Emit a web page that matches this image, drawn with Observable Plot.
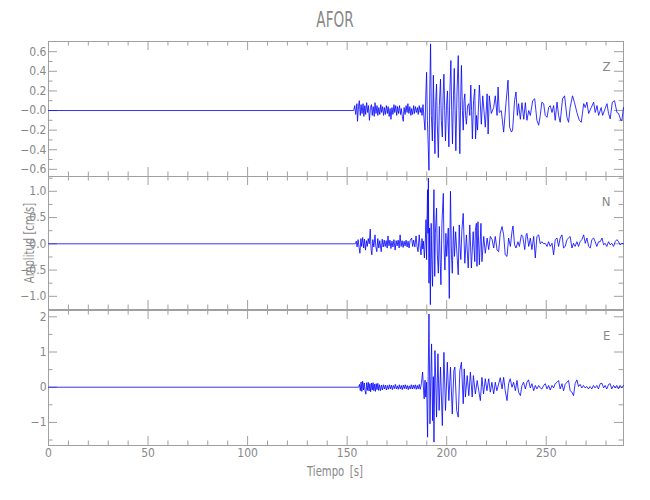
<!DOCTYPE html>
<html><head><meta charset="utf-8">
<script src="https://cdn.jsdelivr.net/npm/d3@7"></script>
<script src="https://cdn.jsdelivr.net/npm/@observablehq/plot@0.6"></script>
<style>
body{margin:0;background:#fff;}
#chart{position:relative;width:650px;height:500px;font-family:"DejaVu Sans Condensed","DejaVu Sans",sans-serif;font-stretch:condensed;color:#888;}
#chart svg{position:absolute;left:0;top:0;}
.lbl{position:absolute;white-space:nowrap;line-height:1;}
</style></head><body>
<div id="chart">
  <div class="lbl" id="title" style="left:335px;top:10px;font-size:21px;transform:translateX(-50%) scaleX(0.72);">AFOR</div>
  <div class="lbl" id="xlab" style="left:335px;top:464px;font-size:14px;transform:translateX(-50%) scaleX(0.8);word-spacing:3px;">Tiempo [s]</div>
  <div class="lbl" id="ylab" style="left:29px;top:243px;font-size:14px;transform:translate(-50%,-50%) rotate(-90deg) scaleX(0.8);">Amplitud [cm/s]</div>
</div>
<script>
// ---------- data: [time (s), amplitude (cm/s)] ----------
const titleText = "AFOR";
const components = ["Z", "N", "E"];

const zTrace = [[0,0],[153.3,0],[153.8,0.05],[154.3,-0.04],[154.9,0.07],[155.2,-0.11],[155.7,0.04],[156.1,0.1],[156.6,-0.05],[157.0,0.06],[157.5,-0.03],[158.0,0.07],[158.4,-0.06],[158.9,0.05],[159.3,-0.04],[159.8,0.08],[160.3,-0.02],[160.7,0.05],[161.2,-0.1],[161.7,0.03],[162.2,0.06],[162.6,-0.05],[163.1,0.04],[163.6,-0.06],[164.0,0.08],[164.5,-0.03],[165.0,0.05],[165.4,-0.05],[165.9,0.03],[166.4,-0.04],[166.9,0.06],[167.3,-0.02],[167.8,0.04],[168.3,-0.05],[168.7,0.03],[169.2,-0.04],[169.7,0.05],[170.2,-0.03],[170.6,0.04],[171.1,-0.06],[171.6,0.02],[172.0,-0.09],[172.5,0.03],[173.0,-0.04],[173.5,0.06],[173.9,-0.02],[174.4,0.05],[174.9,-0.05],[175.3,0.04],[175.8,-0.03],[176.3,0.05],[176.8,-0.04],[177.2,0.02],[177.7,-0.06],[178.2,-0.11],[178.6,0.03],[179.1,-0.04],[179.6,0.05],[180.1,-0.02],[180.5,0.07],[181.0,-0.03],[181.5,0.04],[182.0,-0.05],[182.4,0.02],[182.9,-0.04],[183.4,0.05],[183.8,-0.03],[184.3,0.04],[184.8,-0.02],[185.3,0.03],[185.7,-0.04],[186.2,0.05],[186.7,-0.02],[187.1,0.03],[187.6,-0.05],[188.1,0.06],
[188.6,-0.08],[189.1,-0.2],[189.5,0.15],[189.9,0.39],[190.3,-0.1],[190.7,-0.35],[191.1,-0.61],[191.5,0.2],[191.9,0.68],[192.3,-0.05],[192.8,-0.31],[193.3,0.36],[193.7,-0.1],[194.1,-0.44],[194.5,0.1],[194.9,0.27],[195.3,-0.15],[195.8,-0.48],[196.3,0.05],[196.9,0.32],[197.3,-0.1],[197.8,-0.27],[198.2,0.15],[198.6,0.37],[199.0,0.0],[199.4,-0.31],[199.9,0.05],[200.4,0.2],[200.7,-0.1],[201.1,-0.37],[201.6,0.2],[202.1,0.51],[202.5,0.0],[202.9,-0.34],[203.4,0.15],[203.8,0.43],[204.2,0.0],[204.6,-0.41],[205.2,0.2],[205.8,0.56],[206.2,0.0],[206.6,-0.44],[207.0,0.1],[207.4,0.46],[207.9,0.0],[208.3,-0.2],[208.7,0.1],[209.1,0.17],[209.5,-0.05],[209.9,-0.14],[210.5,0.05],[211.1,0.07],[211.6,-0.05],[212.1,0.26],[212.5,0.0],[212.9,-0.29],[213.5,0.1],[214.1,0.22],[214.5,-0.29],[215.0,-0.05],[215.5,-0.2],[216.4,0.26],[217.4,-0.14],[218.1,0.15],[219.4,-0.17],[220.3,0.17],[220.8,-0.24],[221.4,0.15],[222.4,-0.03],[223.6,0.03],[224.4,0.15],[225.3,-0.05],[225.8,0.24],[226.4,-0.02],[227.4,0.0],[228.6,-0.22],[229.8,0.08],[230.8,0.31],[231.6,-0.17],[232.5,-0.22],[233.1,-0.2],[234.1,0.1],[234.8,0.19],[235.5,-0.05],[236.1,0.07],[237.0,-0.09],[237.8,0.08],[238.7,-0.09],[239.5,0.08],[240.3,-0.1],[241.2,0.0],[242.0,-0.05],[243.2,0.1],[244.2,0.12],[245.3,-0.1],[246.2,-0.15],[247.0,-0.05],[247.8,0.085],[248.7,0.07],[249.5,-0.05],[250.4,-0.07],[251.2,0.03],[252.0,0.05],[252.9,-0.02],[253.7,0.05],[254.5,-0.1],[255.4,0.085],[256.2,-0.05],[257.0,-0.12],[258.2,0.12],[259.2,0.15],[260.4,-0.07],[261.2,-0.12],[262.0,0.03],[263.2,0.15],[264.2,0.08],[265.4,-0.02],[266.6,-0.1],[267.6,-0.12],[268.8,0.07],[269.6,0.03],[270.4,0.085],[271.3,-0.03],[272.6,0.03],[273.8,0.085],[274.6,-0.02],[275.5,0.05],[276.3,-0.05],[277.6,0.03],[278.3,-0.05],[279.6,0.02],[280.5,0.07],[281.3,-0.03],[282.1,-0.085],[283.2,0.085],[284.3,0.1],[285.5,-0.02],[286.3,-0.03],[287.5,-0.1],[288.0,-0.1],[288.8,0.03]];

const nTrace = [[0,0],[154.1,0],[154.6,0.05],[155.0,-0.06],[155.5,0.08],[156.0,-0.07],[156.4,-0.18],[156.9,0.1],[157.3,-0.05],[157.8,0.12],[158.3,-0.08],[158.7,0.09],[159.2,-0.12],[159.7,0.06],[160.1,-0.05],[160.6,0.1],[161.1,0.0],[161.6,0.28],[162.0,-0.1],[162.4,-0.21],[162.9,0.08],[163.4,-0.06],[164.0,0.17],[164.4,-0.05],[164.9,-0.15],[165.4,0.1],[165.9,-0.08],[166.4,0.06],[167.1,-0.15],[167.6,0.09],[168.1,-0.06],[168.6,0.07],[169.1,-0.05],[169.6,0.06],[170.1,-0.08],[170.5,0.15],[171.0,-0.04],[171.5,0.07],[172.0,-0.09],[172.5,0.05],[173.0,-0.06],[173.5,0.08],[174.1,-0.12],[174.6,0.06],[175.1,-0.04],[175.6,0.07],[176.1,-0.08],[176.6,0.17],[177.1,-0.05],[177.6,0.06],[178.1,-0.07],[178.6,0.05],[179.1,-0.04],[179.6,0.07],[180.1,-0.06],[180.6,0.05],[181.1,-0.08],[181.6,0.06],[182.4,0.11],[182.9,-0.05],[183.4,0.07],[184.0,-0.06],[184.6,0.15],[185.1,-0.05],[185.6,-0.15],[186.2,0.17],[186.7,-0.08],[187.1,-0.21],[187.6,0.1],[188.0,-0.1],[188.3,0.05],[188.8,-0.27],
[189.3,0.1],[189.6,0.46],[189.9,-0.3],[190.2,0.6],[190.4,1.03],[190.6,0.2],[190.8,1.25],[191.1,-0.75],[191.4,0.3],[191.8,-1.16],[192.2,0.39],[192.5,-0.3],[192.9,-0.81],[193.3,0.4],[193.6,1.03],[194.0,-0.62],[194.3,0.2],[194.9,0.68],[195.3,-0.2],[195.8,-0.56],[196.3,0.33],[196.7,-0.3],[197.1,-0.78],[197.6,0.39],[198.3,0.96],[198.6,0.0],[199.1,-0.5],[199.6,0.2],[200.0,-0.24],[200.8,0.3],[201.3,-1.04],[201.9,1.0],[202.4,-0.2],[202.8,-0.56],[203.4,0.33],[203.9,-0.24],[204.5,0.23],[205.0,-0.1],[205.8,-0.59],[206.3,0.36],[206.6,0.0],[207.1,-0.3],[207.6,0.25],[208.3,0.58],[209.1,-0.37],[209.9,0.17],[210.8,-0.46],[211.6,0.36],[212.4,-0.46],[213.3,0.23],[214.1,-0.34],[214.4,0.25],[214.9,0.39],[215.2,-0.43],[215.7,0.42],[216.4,-0.4],[217.2,0.39],[217.7,-0.34],[218.6,0.14],[219.4,-0.18],[220.3,0.11],[221.1,-0.11],[221.9,0.14],[222.8,0.08],[223.6,-0.08],[224.4,0.14],[225.3,-0.12],[226.1,-0.15],[226.9,0.2],[227.8,0.33],[228.6,0.17],[229.4,-0.21],[230.3,-0.24],[231.1,0.11],[232.0,-0.05],[232.8,0.24],[233.3,0.34],[234.1,-0.02],[234.8,-0.08],[235.8,0.04],[236.5,-0.05],[237.5,0.17],[238.2,0.14],[239.2,-0.11],[239.9,0.17],[240.3,0.2],[241.2,-0.05],[242.0,0.11],[242.8,-0.11],[243.7,0.14],[244.5,-0.27],[245.3,0.14],[246.2,0.17],[247.0,0.0],[247.8,0.04],[248.7,0.0],[249.5,0.01],[250.4,-0.05],[251.2,0.04],[252.0,-0.05],[252.9,0.01],[253.7,-0.21],[254.5,0.08],[255.4,0.11],[256.2,-0.05],[257.0,0.11],[257.9,0.17],[258.7,-0.08],[259.5,-0.05],[260.4,0.08],[262.0,0.14],[262.9,-0.08],[263.7,0.01],[264.5,-0.05],[265.4,0.04],[266.2,-0.05],[267.0,0.04],[267.9,0.08],[268.8,0.17],[269.6,0.01],[270.4,0.11],[271.3,-0.05],[272.1,-0.08],[272.9,0.08],[273.8,0.11],[274.6,0.04],[275.4,-0.05],[276.3,0.04],[277.1,0.04],[278.0,0.11],[278.8,-0.02],[279.6,0.01],[280.4,-0.05],[281.3,0.04],[282.1,-0.02],[282.9,0.01],[283.8,-0.05],[284.6,0.04],[285.5,0.08],[286.3,0.04],[287.1,-0.02],[288.0,0.01],[288.8,0.0]];

const eTrace = [[0,0],[155.8,0],[156.2,0.08],[156.6,-0.1],[157.0,0.15],[157.4,-0.12],[157.8,0.17],[158.2,-0.08],[158.6,0.12],[159.0,-0.1],[159.4,-0.2],[159.8,0.13],[160.2,-0.09],[160.6,0.14],[161.0,-0.11],[161.4,0.1],[161.8,-0.13],[162.2,0.12],[162.6,-0.08],[163.0,0.13],[163.4,-0.1],[163.8,0.09],[164.2,-0.12],[164.6,0.1],[165.0,-0.07],[165.4,0.11],[165.8,-0.09],[166.2,0.07],[166.7,-0.1],[167.2,0.06],[167.7,-0.08],[168.2,0.07],[168.7,-0.05],[169.2,0.06],[169.7,-0.08],[170.2,0.05],[170.7,-0.06],[171.2,0.07],[171.7,-0.05],[172.2,0.06],[172.7,-0.07],[173.2,0.05],[173.7,-0.04],[174.2,0.08],[174.7,-0.05],[175.2,0.04],[175.7,-0.06],[176.2,0.07],[176.7,-0.05],[177.2,0.05],[177.7,-0.07],[178.2,0.06],[178.7,-0.04],[179.2,0.07],[179.7,-0.05],[180.2,0.05],[180.7,-0.07],[181.2,0.04],[181.7,-0.05],[182.2,0.07],[182.7,-0.05],[183.2,0.06],[183.7,-0.04],[184.2,0.07],[184.7,-0.06],[185.2,0.05],[185.7,-0.05],[186.2,0.08],[186.7,-0.06],[187.3,0.1],
[187.9,0.43],[188.4,-0.1],[188.7,-0.33],[189.1,0.2],[189.5,-0.28],[189.9,0.14],[190.4,-1.42],[190.7,0.3],[191.1,2.08],[191.4,0.4],[191.6,-1.04],[192.0,0.2],[192.4,1.23],[192.9,-0.95],[193.3,0.3],[193.6,-1.56],[194.1,1.04],[194.5,0.2],[194.9,-0.85],[195.6,0.95],[196.2,-0.66],[196.9,0.57],[197.8,-1.09],[198.6,0.99],[199.4,-0.66],[200.3,0.71],[201.1,-0.38],[201.9,0.57],[202.8,-0.76],[203.6,0.47],[204.1,0.57],[205.0,-0.66],[205.8,-0.85],[206.6,0.47],[207.4,0.71],[208.3,-0.47],[208.8,0.52],[209.4,-0.28],[210.3,0.33],[211.1,-0.24],[211.9,0.43],[212.8,-0.28],[213.4,0.33],[214.4,-0.19],[215.3,0.19],[216.1,-0.1],[216.9,-0.38],[217.7,0.28],[218.5,-0.19],[219.4,0.24],[220.2,-0.1],[221.1,0.24],[221.9,-0.14],[222.7,0.14],[223.6,-0.19],[224.4,0.14],[225.2,-0.1],[226.9,0.27],[227.8,-0.05],[228.6,0.28],[229.4,-0.1],[230.3,-0.38],[231.1,0.1],[231.9,0.24],[232.8,0.0],[233.6,0.14],[234.5,-0.1],[235.3,0.19],[236.1,-0.14],[237.0,-0.24],[237.8,0.05],[238.6,0.14],[239.5,-0.05],[240.3,0.14],[241.1,0.21],[242.0,-0.02],[242.8,0.1],[243.7,-0.1],[244.5,0.05],[245.3,-0.05],[246.2,0.05],[247.0,-0.02],[247.8,-0.05],[248.7,0.05],[249.5,0.1],[250.4,-0.05],[251.2,0.05],[252.0,-0.08],[252.9,0.05],[253.7,-0.02],[254.5,0.1],[255.4,0.14],[256.2,0.19],[257.0,-0.05],[257.9,0.1],[258.7,-0.1],[259.5,0.08],[260.4,0.14],[261.2,0.19],[262.0,-0.1],[262.9,-0.14],[263.7,-0.24],[264.5,0.1],[265.4,0.21],[266.2,0.02],[267.0,0.08],[267.9,-0.02],[268.7,0.05],[269.5,-0.02],[270.4,0.02],[271.2,-0.05],[272.0,0.02],[272.9,-0.05],[273.7,0.05],[274.5,-0.02],[275.4,0.05],[276.2,-0.05],[277.1,0.1],[278.0,0.11],[278.8,-0.02],[279.6,0.05],[280.4,-0.05],[281.3,0.08],[282.1,0.1],[282.9,-0.05],[283.8,0.05],[284.6,-0.02],[285.4,0.05],[286.3,-0.05],[287.1,0.05],[287.9,-0.02],[288.8,0.05]];

// axis ticks and labels
const xDomain = [0, 288.8];
const xMajor = [0, 50, 100, 150, 200, 250];
const xMinor = [10,20,30,40,60,70,80,90,110,120,130,140,160,170,180,190,210,220,230,240,260,270,280];

const zDomain = [-0.673, 0.704];
const zMajor = [-0.6, -0.4, -0.2, 0, 0.2, 0.4, 0.6];
const zLabels = ["−0.6", "−0.4", "−0.2", "−0.0", "0.2", "0.4", "0.6"];
const zMinor = [-0.5, -0.3, -0.1, 0.1, 0.3, 0.5];

const nDomain = [-1.251, 1.282];
const nMajor = [-1, -0.5, 0, 0.5, 1];
const nLabels = ["−1.0", "−0.5", "0.0", "0.5", "1.0"];
const nMinor = [-1.25, -0.75, -0.25, 0.25, 0.75, 1.25];

const eDomain = [-1.656, 2.179];
const eMajor = [-1, 0, 1, 2];
const eLabels = ["−1", "0", "1", "2"];
const eMinor = [-1.5, -0.5, 0.5, 1.5];

// ---------- drawing ----------
const AXIS = "#a0a0a0";
const FONT = '"DejaVu Sans Condensed","DejaVu Sans",sans-serif';
const ML = 48, MR = 27, WIDTH = 650, HEIGHT = 500;

function panel(trace, domain, major, labels, minor, letter, top, bottom, showX) {
  const H = HEIGHT - top - bottom, W = WIDTH - ML - MR;
  const fmt = new Map(major.map((v, i) => [v, labels[i]]));
  const marks = [
    Plot.ruleX(xMajor, {stroke: AXIS, insetBottom: H - 9}),
    Plot.ruleX(xMajor, {stroke: AXIS, insetTop: H - 9}),
    Plot.ruleX(xMinor, {stroke: AXIS, insetBottom: H - 4.5}),
    Plot.ruleX(xMinor, {stroke: AXIS, insetTop: H - 4.5}),
    Plot.ruleY(major, {stroke: AXIS, insetRight: W - 9}),
    Plot.ruleY(major, {stroke: AXIS, insetLeft: W - 9}),
    Plot.ruleY(minor, {stroke: AXIS, insetRight: W - 4.5}),
    Plot.ruleY(minor, {stroke: AXIS, insetLeft: W - 4.5}),
    Plot.frame({stroke: AXIS}),
    Plot.axisY(major, {tickSize: 0, tickPadding: 2, tickFormat: d => fmt.get(d), fontSize: 12}),
    Plot.line(trace, {x: d => d[0], y: d => d[1], stroke: "#0000ff", strokeWidth: 0.8}),
    Plot.text([letter], {text: d => d, frameAnchor: "top-right", dx: -13, dy: 20, fontSize: 13, fill: "#888"})
  ];
  if (showX) marks.push(Plot.axisX(xMajor, {tickSize: 0, tickPadding: 3, fontSize: 12}));
  return Plot.plot({
    width: WIDTH, height: HEIGHT,
    marginLeft: ML, marginRight: MR, marginTop: top, marginBottom: bottom,
    x: {domain: xDomain, axis: showX ? undefined : null},
    y: {domain},
    style: {background: "transparent", color: "#888", fontFamily: FONT, fontStretch: "condensed", fontSize: "12px", overflow: "visible"},
    marks
  });
}

const chart = document.getElementById("chart");
document.getElementById("title").textContent = titleText;
chart.append(panel(zTrace, zDomain, zMajor, zLabels, zMinor, components[0], 41, 324, false));
chart.append(panel(nTrace, nDomain, nMajor, nLabels, nMinor, components[1], 176, 191, false));
chart.append(panel(eTrace, eDomain, eMajor, eLabels, eMinor, components[2], 310, 55, true));
</script>
</body></html>
